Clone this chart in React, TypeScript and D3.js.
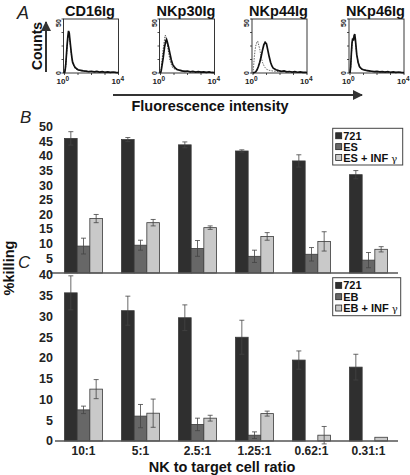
import React from "react";
import * as d3 from "d3";

const categories = ["10:1", "5:1", "2.5:1", "1.25:1", "0.62:1", "0.31:1"];
const seriesB = ["721", "ES", "ES + INF"];
const seriesC = ["721", "EB", "EB + INF"];

const b721 = [46.0, 45.6, 43.8, 41.7, 38.3, 33.6];
const b721Err = [2.3, 0.7, 1.0, 0.4, 2.1, 1.4];
const bES = [9.2, 9.5, 8.4, 5.7, 6.4, 4.4];
const bESErr = [2.7, 1.7, 2.7, 2.1, 2.3, 2.6];
const bESINF = [18.6, 17.2, 15.5, 12.5, 10.8, 8.1];
const bESINFErr = [1.4, 1.1, 0.6, 1.3, 3.3, 0.9];

const c721 = [35.7, 31.4, 29.7, 25.0, 19.5, 17.8];
const c721Err = [4.1, 3.5, 3.1, 4.1, 2.2, 3.1];
const cEB = [7.5, 6.0, 4.0, 1.4, 0, 0];
const cEBErr = [0.9, 2.8, 1.5, 0.8, 0, 0];
const cEBINF = [12.5, 6.7, 5.5, 6.6, 1.4, 0.9];
const cEBINFErr = [2.3, 3.4, 0.7, 0.6, 2.1, 0];

const bTicks = [5, 10, 15, 20, 25, 30, 35, 40, 45, 50];
const cTicks = [0, 5, 10, 15, 20, 25, 30, 35, 40];

const histTitles = ["CD16Ig", "NKp30Ig", "NKp44Ig", "NKp46Ig"];

// [log10 decade, counts]
const histSolid: [number, number][][] = [
  [[0, 0], [0.05, 3], [0.1, 9], [0.15, 18], [0.2, 27], [0.25, 34], [0.3, 39], [0.35, 37], [0.4, 31], [0.45, 25], [0.5, 19], [0.55, 14], [0.6, 10], [0.7, 7], [0.8, 5], [0.9, 4], [1.0, 3], [1.2, 2.5], [1.4, 2], [1.6, 1.8], [1.8, 1.2], [2.0, 1.6], [2.2, 1], [2.4, 1.4], [2.6, 0.8], [2.8, 1.2], [3.0, 0.7], [3.2, 1.1], [3.4, 0.6], [3.6, 0.9], [3.8, 0.5], [4, 0.3]],
  [[0, 0], [0.05, 2], [0.1, 6], [0.2, 14], [0.3, 24], [0.4, 30], [0.45, 31], [0.5, 29], [0.6, 24], [0.7, 18], [0.8, 12], [0.9, 8], [1.0, 6], [1.1, 4.5], [1.2, 3.5], [1.4, 2.6], [1.6, 2], [1.8, 1.5], [2.0, 1.8], [2.2, 1.1], [2.4, 1.5], [2.6, 0.9], [2.8, 1.3], [3.0, 0.8], [3.2, 1.1], [3.4, 0.6], [3.6, 1], [3.8, 0.5], [4, 0.4]],
  [[0, 0], [0.2, 1], [0.3, 3], [0.4, 6], [0.5, 10], [0.6, 15], [0.7, 21], [0.8, 26], [0.9, 28.5], [1.0, 27], [1.1, 21], [1.2, 15], [1.3, 10], [1.4, 6.5], [1.5, 4.5], [1.7, 3], [1.9, 2.2], [2.1, 1.6], [2.3, 1.9], [2.5, 1.1], [2.7, 1.4], [2.9, 0.9], [3.1, 1.2], [3.3, 0.7], [3.5, 1], [3.7, 0.6], [3.9, 0.7], [4, 0.4]],
  [[0, 0], [0.05, 6], [0.1, 18], [0.15, 28], [0.2, 32], [0.25, 30], [0.3, 34], [0.35, 36], [0.4, 31], [0.45, 24], [0.5, 17], [0.6, 10], [0.7, 6], [0.8, 4.5], [0.9, 3.5], [1.0, 3], [1.2, 2.4], [1.4, 2], [1.6, 1.6], [1.8, 1.2], [2.0, 1.5], [2.2, 1], [2.4, 1.3], [2.6, 0.8], [2.8, 1.2], [3.0, 0.7], [3.2, 1], [3.4, 0.6], [3.6, 0.9], [3.8, 0.5], [4, 0.3]],
];
const histDashed: [number, number][][] = [
  [[0, 0], [0.05, 2], [0.1, 7], [0.15, 16], [0.2, 25], [0.25, 32], [0.3, 36], [0.35, 35], [0.4, 29], [0.5, 18], [0.6, 10], [0.7, 6], [0.8, 4], [1.0, 2.5], [1.3, 2], [1.6, 1.5], [2.0, 1.2], [2.5, 1], [3.0, 0.8], [3.5, 0.6], [4, 0.3]],
  [[0, 0], [0.05, 4], [0.1, 10], [0.2, 22], [0.3, 31], [0.35, 35], [0.4, 34], [0.5, 27], [0.6, 19], [0.7, 12], [0.8, 8], [0.9, 5], [1.0, 4], [1.2, 3], [1.5, 2], [2.0, 1.4], [2.5, 1], [3.0, 0.8], [3.5, 0.6], [4, 0.3]],
  [[0, 0], [0.05, 7], [0.1, 15], [0.15, 21], [0.2, 25], [0.3, 29], [0.35, 29.5], [0.4, 27], [0.5, 22], [0.6, 15], [0.7, 10], [0.8, 7], [0.9, 5], [1.0, 3.5], [1.2, 2.5], [1.5, 1.8], [2.0, 1.2], [2.5, 1], [3.0, 0.7], [3.5, 0.5], [4, 0.3]],
  [[0, 0], [0.05, 5], [0.1, 16], [0.15, 26], [0.2, 31], [0.25, 33], [0.3, 35], [0.35, 34], [0.4, 29], [0.5, 17], [0.6, 10], [0.7, 6], [0.8, 4], [1.0, 3], [1.3, 2], [1.6, 1.5], [2.0, 1.2], [2.5, 1], [3.0, 0.7], [3.5, 0.5], [4, 0.3]],
];

const FONT = "'Liberation Sans', Arial, Helvetica, sans-serif";
const barFills = ["#2f2f2f", "#676767", "#c9c9c9"];

const xBand = d3.scaleBand<string>().domain(categories).range([55, 397]).paddingInner(1 / 3).paddingOuter(1 / 6);

type BarPanelProps = {
  values: number[][];
  errors: number[][];
  series: string[];
  ticks: number[];
  domainMax: number;
  yTop: number;
  yBottom: number;
  legend: { x: number; y: number; w: number; h: number };
  axisX0: number;
};

function BarPanel({ values, errors, series, ticks, domainMax, yTop, yBottom, legend, axisX0 }: BarPanelProps) {
  const x = xBand;
  const xs = d3.scaleBand<number>().domain([0, 1, 2]).range([0, x.bandwidth()]);
  const y = d3.scaleLinear().domain([0, domainMax]).range([yBottom, yTop]);
  const step = (legend.h - 4) / 3;
  return (
    <g>
      {ticks.map((t) => (
        <text key={t} x={53} y={y(t) + 4.3} textAnchor="end" fontSize={12.5} fontWeight="bold" fill="#222">
          {t}
        </text>
      ))}
      {categories.map((c, i) => (
        <g key={c}>
          {series.map((s, k) => {
            const v = values[k][i];
            const e = errors[k][i];
            const bx = (x(c) as number) + (xs(k) as number);
            const bw = xs.bandwidth();
            const cx = bx + bw / 2;
            const lo = Math.max(v - e, -1.5);
            return (
              <g key={s}>
                {v > 0 && (
                  <rect x={bx} y={y(v)} width={bw} height={y(0) - y(v)} fill={barFills[k]} stroke="#3a3a3a" strokeWidth={0.8} />
                )}
                {e > 0 && (
                  <g stroke="#444" strokeWidth={0.8}>
                    <line x1={cx} x2={cx} y1={y(v + e)} y2={y(lo)} />
                    <line x1={cx - 2.5} x2={cx + 2.5} y1={y(v + e)} y2={y(v + e)} />
                    <line x1={cx - 2.5} x2={cx + 2.5} y1={y(lo)} y2={y(lo)} />
                  </g>
                )}
              </g>
            );
          })}
        </g>
      ))}
      <line x1={axisX0} x2={398} y1={yBottom} y2={yBottom} stroke="#555" strokeWidth={1.6} />
      <g>
        <rect x={legend.x} y={legend.y} width={legend.w} height={legend.h} fill="white" stroke="#444" strokeWidth={1} />
        {series.map((s, k) => {
          const cy = legend.y + 2 + step * (k + 0.5);
          return (
            <g key={s}>
              <rect x={legend.x + 3} y={cy - 3} width={6} height={6} fill={barFills[k]} stroke="#222" strokeWidth={0.8} />
              <text x={legend.x + 10.5} y={cy + 4} fontSize={11} fontWeight="bold" fill="#111">
                {s}
                {k === 2 && (
                  <tspan fontWeight="normal" fontFamily="'DejaVu Serif', serif" fontSize={10} dx={3}>
                    γ
                  </tspan>
                )}
              </text>
            </g>
          );
        })}
      </g>
    </g>
  );
}

function Histogram({ i, left }: { i: number; left: number }) {
  const top = 19;
  const bottom = 73;
  const w = 55;
  const x = d3.scaleLinear().domain([0, 4]).range([left + 1, left + w]);
  const y = d3.scaleLinear().domain([0, 50]).range([bottom, top]);
  const line = d3.line<[number, number]>().x((d) => x(d[0])).y((d) => y(d[1])).curve(d3.curveLinear);
  return (
    <g>
      <text x={left + w / 2 - 1} y={16} textAnchor="middle" fontSize={14.5} fontWeight="bold" fill="#111">
        {histTitles[i]}
      </text>
      <rect x={left} y={top} width={w} height={bottom - top} fill="none" stroke="#222" strokeWidth={0.9} />
      {[0, 12.5, 25, 37.5, 50].map((t) => (
        <line key={t} x1={left - 2} x2={left} y1={y(t)} y2={y(t)} stroke="#222" strokeWidth={0.8} />
      ))}
      {[0, 1, 2, 3, 4].map((t) => (
        <line key={t} x1={x(t)} x2={x(t)} y1={bottom} y2={bottom + 2} stroke="#222" strokeWidth={0.8} />
      ))}
      <text transform={`translate(${left - 3},${top + 4}) rotate(-90)`} textAnchor="middle" fontSize={7} fontWeight="bold" fill="#222">
        50
      </text>
      <text transform={`translate(${left - 3},${bottom}) rotate(-90)`} textAnchor="middle" fontSize={7} fontWeight="bold" fill="#222">
        0
      </text>
      <text x={left - 7} y={bottom + 11} fontSize={8} fontWeight="bold" fill="#222">
        10<tspan dy={-3} fontSize={6.5}>0</tspan>
      </text>
      <text x={left + w - 7} y={bottom + 11} fontSize={8} fontWeight="bold" fill="#222">
        10<tspan dy={-3} fontSize={6.5}>4</tspan>
      </text>
      <path d={line(histDashed[i]) as string} fill="none" stroke={i === 2 ? "#555" : "#333"} strokeWidth={0.9} strokeDasharray="1.5,1.2" />
      <path d={line(histSolid[i]) as string} fill="none" stroke="#111" strokeWidth={1.7} />
    </g>
  );
}

export default function App() {
  const histLefts = [63.5, 159.5, 252, 349];
  return (
    <svg width={410} height={475} style={{ position: "absolute", left: 0, top: 0, fontFamily: FONT }}>
      <rect width={410} height={475} fill="white" />
      <defs>
        <marker id="ah" viewBox="0 0 10 10" refX="9" refY="5" markerWidth="5" markerHeight="5" orient="auto">
          <path d="M0,0 L10,5 L0,10 z" fill="#333" />
        </marker>
      </defs>
      {/* Panel A */}
      <text x={17} y={19} fontSize={18} fontStyle="italic" fill="#222">
        A
      </text>
      <text transform="translate(42,46) rotate(-90)" textAnchor="middle" fontSize={14} fontWeight="bold" fill="#111">
        Counts
      </text>
      <line x1={46} x2={46} y1={72} y2={22} stroke="#333" strokeWidth={2} markerEnd="url(#ah)" />
      {histTitles.map((t, i) => (
        <Histogram key={t} i={i} left={histLefts[i]} />
      ))}
      <line x1={113} x2={362} y1={95} y2={95} stroke="#333" strokeWidth={2} markerEnd="url(#ah)" />
      <text x={210} y={111} textAnchor="middle" fontSize={14.5} fontWeight="bold" fill="#111">
        Fluorescence intensity
      </text>

      {/* Panel B */}
      <text x={20} y={123} fontSize={17} fontStyle="italic" fill="#222">
        B
      </text>
      <BarPanel
        values={[b721, bES, bESINF]}
        errors={[b721Err, bESErr, bESINFErr]}
        series={seriesB}
        ticks={bTicks}
        domainMax={50}
        yTop={126.7}
        yBottom={273}
        legend={{ x: 332.7, y: 128.3, w: 70, h: 36.7 }}
        axisX0={50}
      />

      {/* Panel C */}
      <text x={18} y={268} fontSize={17} fontStyle="italic" fill="#222">
        C
      </text>
      <BarPanel
        values={[c721, cEB, cEBINF]}
        errors={[c721Err, cEBErr, cEBINFErr]}
        series={seriesC}
        ticks={cTicks}
        domainMax={40}
        yTop={275}
        yBottom={441}
        legend={{ x: 332.7, y: 277.7, w: 68, h: 38 }}
        axisX0={55}
      />
      {categories.map((c) => (
        <text key={c} x={(xBand(c) as number) + xBand.bandwidth() / 2} y={455} textAnchor="middle" fontSize={12} fontWeight="bold" fill="#222">
          {c}
        </text>
      ))}
      <text x={222} y={472} textAnchor="middle" fontSize={14.5} fontWeight="bold" fill="#111">
        NK to target cell ratio
      </text>
      <text transform="translate(14,268) rotate(-90)" textAnchor="middle" fontSize={14.5} fontWeight="bold" fill="#111">
        %killing
      </text>
    </svg>
  );
}
